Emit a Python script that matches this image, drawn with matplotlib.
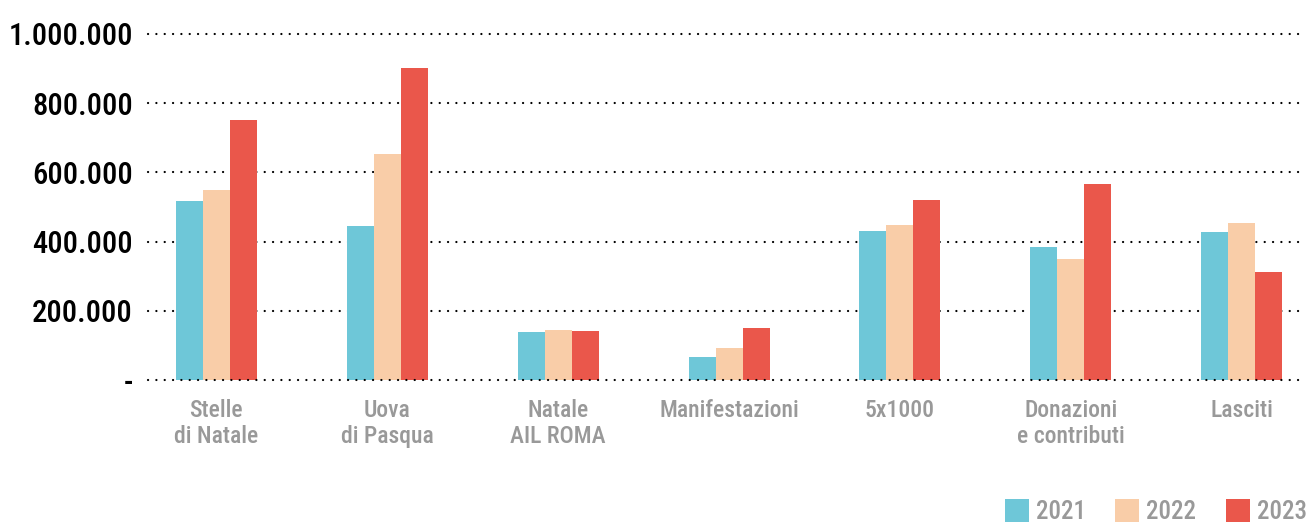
import matplotlib
matplotlib.use("Agg")
import matplotlib.pyplot as plt
from matplotlib.patches import Rectangle
import numpy as np

# Raccolta fondi per canale (euro)
categories = ["Stelle\ndi Natale", "Uova\ndi Pasqua", "Natale\nAIL ROMA", "Manifestazioni",
              "5x1000", "Donazioni\ne contributi", "Lasciti"]
years = ["2021", "2022", "2023"]
values_2021 = [517000, 445000, 139000, 66000, 431000, 384000, 428000]
values_2022 = [549000, 653000, 145000, 92000, 448000, 350000, 454000]
values_2023 = [751000, 902000, 142000, 150000, 520000, 566000, 312000]
yticks = [0, 200000, 400000, 600000, 800000, 1000000]
ytick_labels = ["-", "200.000", "400.000", "600.000", "800.000", "1.000.000"]

colors = ["#6EC7D8", "#F9CDA8", "#EA574B"]
FONT = ["Roboto Condensed", "Liberation Sans Narrow", "DejaVu Sans"]
plt.rcParams["font.family"] = FONT
plt.rcParams["font.stretch"] = "condensed"

W, H = 1309, 522
fig = plt.figure(figsize=(W / 100, H / 100), dpi=100)
ax = fig.add_axes([148 / W, (H - 380) / H, (1305 - 148) / W, (380 - 34) / H])

x = np.arange(len(categories))
bw = 0.158
series = [values_2021, values_2022, values_2023]
for i, vals in enumerate(series):
    ax.bar(x + (i - 1) * bw, vals, width=bw, color=colors[i], zorder=2, linewidth=0)

ax.set_xlim(-0.40, 6.37)
ax.set_ylim(0, 1000000)

# dotted horizontal grid (round dots)
for yv in yticks:
    ax.axhline(yv, color="black", linewidth=1.6, linestyle=(0, (0.05, 3.7)),
               dash_capstyle="round", zorder=3 if yv == 0 else 1, clip_on=False)

ax.set_yticks(yticks)
ax.set_yticklabels(ytick_labels, fontsize=22, color="black", fontweight="medium")
ax.set_xticks(x)
ax.set_xticklabels(categories, fontsize=17, color="#999999", fontweight="medium",
                   linespacing=1.15)
ax.tick_params(axis="y", length=0, pad=11)
ax.tick_params(axis="x", length=0, pad=14)
for s in ax.spines.values():
    s.set_visible(False)

# legend along the bottom edge
legend_x = [1005, 1115, 1226]
sq = 24
for i, yr in enumerate(years):
    fig.add_artist(Rectangle((legend_x[i] / W, (H - 499 - sq) / H), sq / W, sq / H,
                             transform=fig.transFigure, color=colors[i], linewidth=0))
    fig.text((legend_x[i] + 31) / W, (H - 500) / H, yr, fontsize=18, color="#999999",
             fontweight="medium", ha="left", va="top")

fig.savefig("out.png", dpi=100)
